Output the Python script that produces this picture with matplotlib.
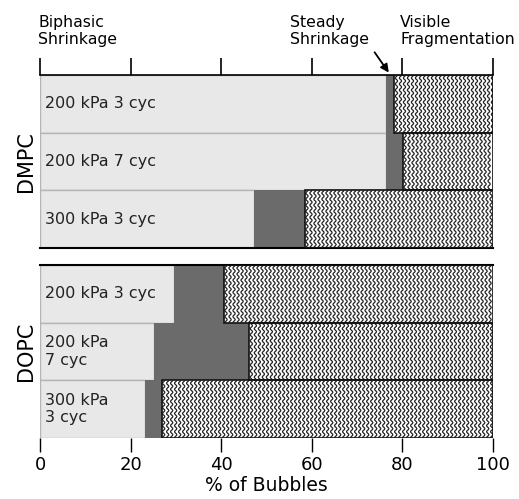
import numpy as np
import matplotlib.pyplot as plt
from matplotlib.collections import LineCollection

# data (% of bubbles per behaviour)
dmpc_labels = ["200 kPa 3 cyc", "200 kPa 7 cyc", "300 kPa 3 cyc"]
dopc_labels = ["200 kPa 3 cyc", "200 kPa\n7 cyc", "300 kPa\n3 cyc"]

dmpc_biphasic = [76.5, 76.5, 47.2]
dmpc_steady = [1.8, 3.7, 11.3]
dopc_biphasic = [29.6, 25.1, 23.1]
dopc_steady = [11.0, 21.1, 3.7]

ticks = [0, 20, 40, 60, 80, 100]

light = "#e8e8e8"
dark = "#6b6b6b"


def wavy_hatch(ax, patch):
    # vertical wavy lines clipped to the bar, like the zigzag fill in the original
    x0, y0 = patch.get_x(), patch.get_y()
    w, h = patch.get_width(), patch.get_height()
    xs = np.arange(x0 + 0.45, x0 + w, 0.885)
    yy = np.linspace(y0, y0 + h, 400)
    segs = []
    for xc in xs:
        segs.append(np.column_stack([xc + 0.24 * np.sin(2 * np.pi * yy / 0.105), yy]))
    lc = LineCollection(segs, colors="#222222", linewidths=0.9, zorder=3)
    ax.add_collection(lc)
    lc.set_clip_path(patch)


def draw_panel(ax, labels, biphasic, steady, group):
    y = np.arange(len(labels))
    biphasic = np.array(biphasic)
    steady = np.array(steady)
    frag = 100 - biphasic - steady
    ax.barh(y, biphasic, height=1.0, color=light, edgecolor="#b5b5b5", linewidth=1.0, zorder=2)
    ax.barh(y, steady, left=biphasic, height=1.0, color=dark, edgecolor="none", zorder=2)
    bars = ax.barh(y, frag, left=biphasic + steady, height=1.0, color="white",
                   edgecolor="none", zorder=2)
    for b in bars:
        wavy_hatch(ax, b)
        ax.add_patch(plt.Rectangle((b.get_x(), b.get_y()), b.get_width(), b.get_height(),
                                   fill=False, edgecolor="#111111", linewidth=1.2, zorder=4))
    for yi, lab in zip(y, labels):
        ax.text(1.0, yi, lab, va="center", ha="left", fontsize=11.5, color="#222222", zorder=5)
    ax.set_xlim(0, 100)
    ax.set_ylim(2.5, -0.5)
    ax.set_yticks([])
    ax.set_xticks(ticks)
    ax.spines["left"].set_visible(False)
    ax.spines["right"].set_visible(False)
    ax.text(-0.033, 0.5, group, transform=ax.transAxes, rotation=90,
            ha="center", va="center", fontsize=15)


fig = plt.figure(figsize=(5.19, 4.99), dpi=100)
ax1 = fig.add_axes([0.078, 0.503, 0.871, 0.347])
ax2 = fig.add_axes([0.078, 0.122, 0.871, 0.347])

draw_panel(ax1, dmpc_labels, dmpc_biphasic, dmpc_steady, "DMPC")
draw_panel(ax2, dopc_labels, dopc_biphasic, dopc_steady, "DOPC")

# top panel: ticks on top only, no labels
ax1.xaxis.set_ticks_position("top")
ax1.tick_params(axis="x", direction="out", length=12, width=1.2, labeltop=False, labelbottom=False)
ax1.spines["top"].set_linewidth(1.2)
ax1.spines["bottom"].set_linewidth(1.5)

# bottom panel
ax2.spines["bottom"].set_visible(False)
ax2.spines["top"].set_linewidth(1.5)
ax2.tick_params(axis="x", direction="out", length=10, width=1.0, labelsize=13, pad=3, top=False)
ax2.set_xlabel("% of Bubbles", fontsize=13.5, labelpad=1)

# category labels above the top panel
for xpix, txt in [(38, "Biphasic\nShrinkage"), (290, "Steady\nShrinkage"),
                  (400, "Visible\nFragmentation")]:
    fig.text(xpix / 519, 1 - 31 / 499, txt, fontsize=11.3, ha="left", va="center",
             linespacing=1.1)
ax1.annotate("", xy=(dmpc_biphasic[0] + 0.9, -0.5), xycoords="data",
             xytext=(373 / 519, 1 - 50 / 499), textcoords="figure fraction",
             arrowprops=dict(arrowstyle="-|>", color="black", lw=1.3, mutation_scale=12),
             annotation_clip=False)

fig.savefig("out.png", dpi=100)
